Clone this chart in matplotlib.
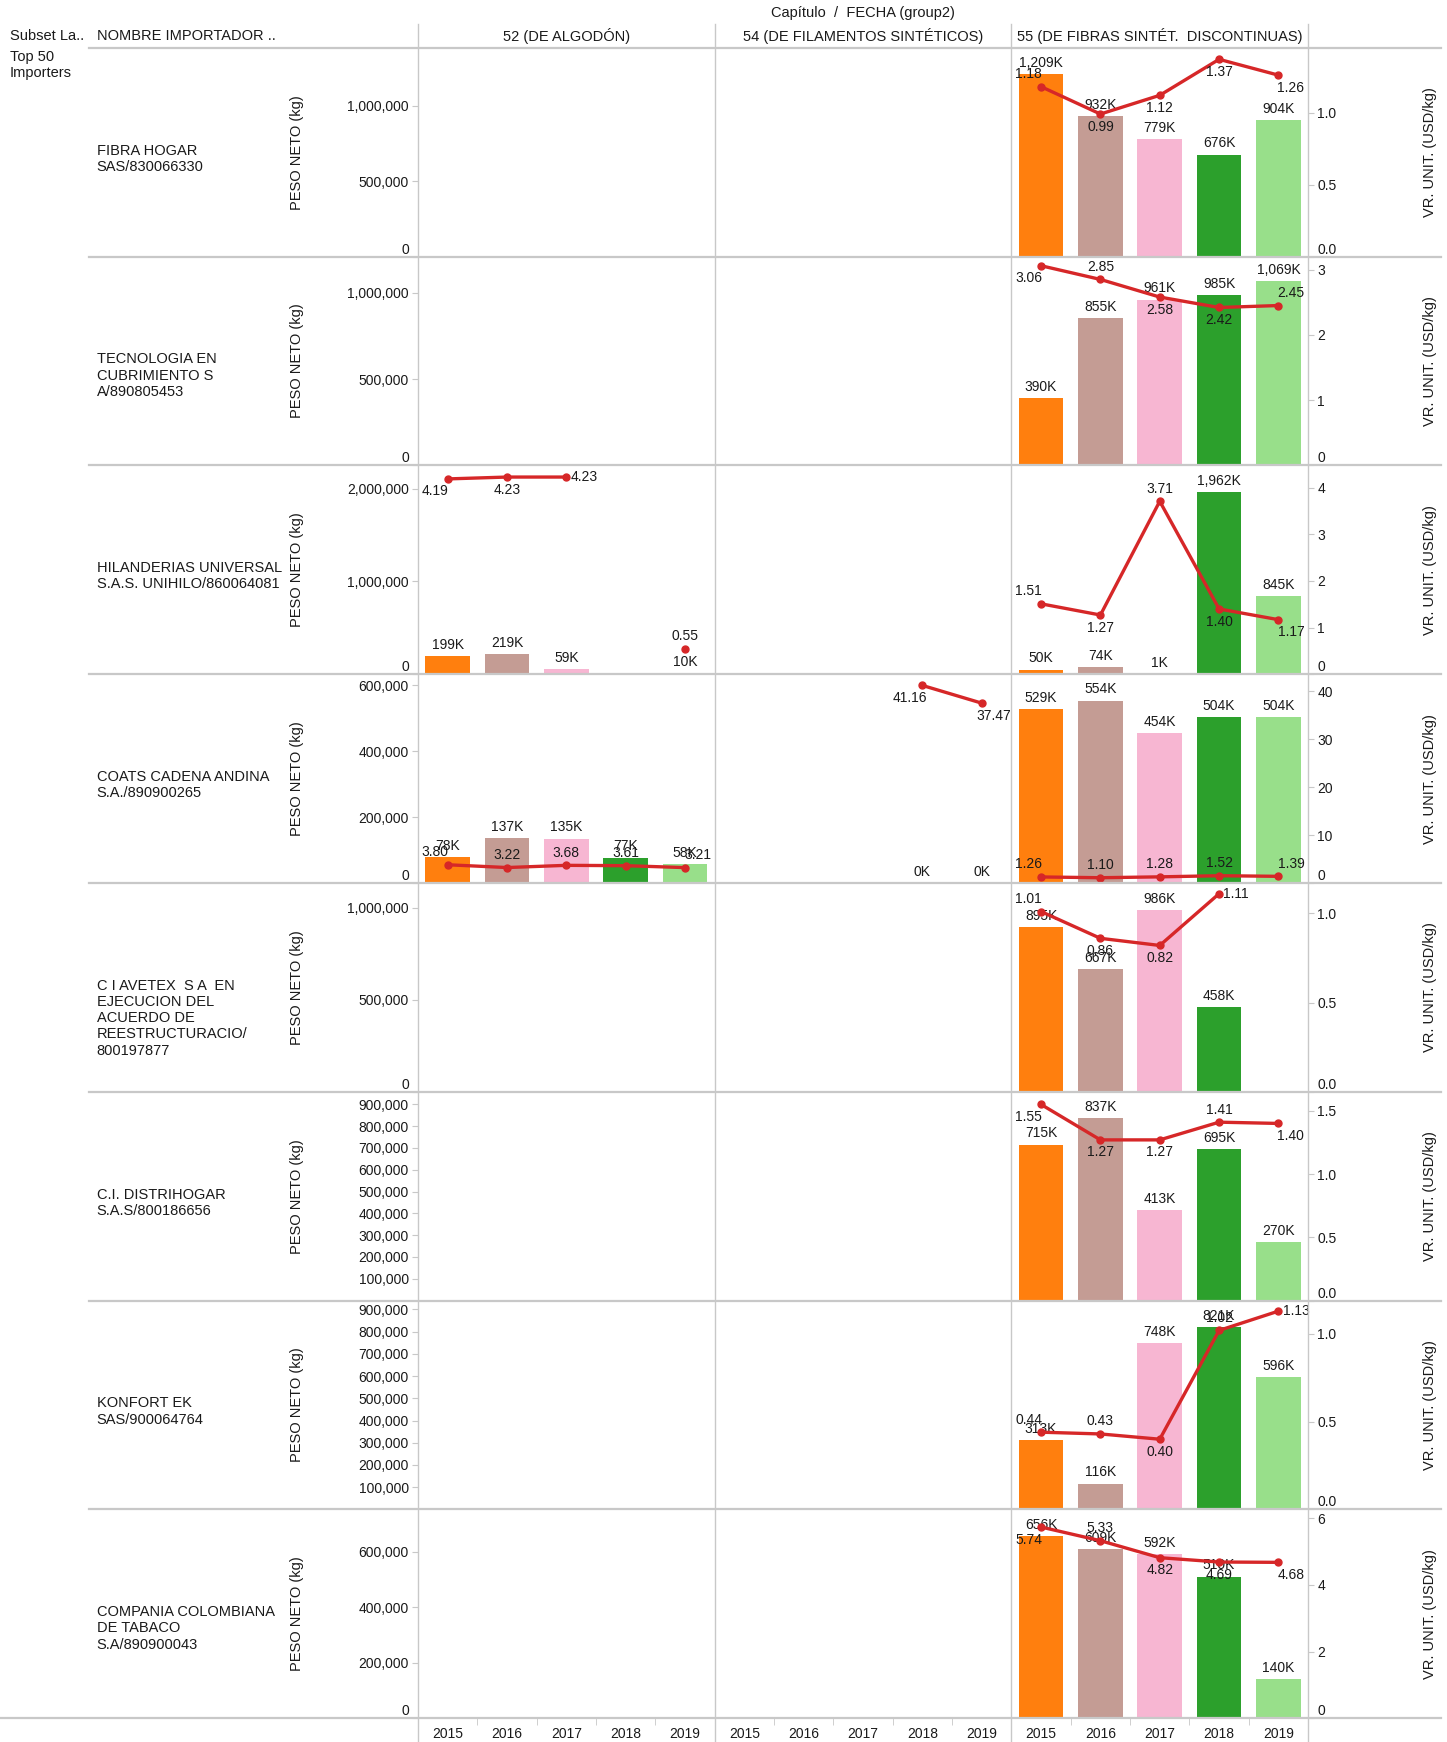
import numpy as np
import matplotlib
matplotlib.use("Agg")
import matplotlib.pyplot as plt
from matplotlib.lines import Line2D

plt.rcParams["font.family"] = ["Liberation Sans", "DejaVu Sans"]

nan = np.nan

# ---- data ----
YEARS = ["2015", "2016", "2017", "2018", "2019"]
CHAPTERS = ["52 (DE ALGODÓN)", "54 (DE FILAMENTOS SINTÉTICOS)",
            "55 (DE FIBRAS SINTÉT.  DISCONTINUAS)"]
IMPORTERS = [
    "FIBRA HOGAR\nSAS/830066330",
    "TECNOLOGIA EN\nCUBRIMIENTO S\nA/890805453",
    "HILANDERIAS UNIVERSAL\nS.A.S. UNIHILO/860064081",
    "COATS CADENA ANDINA\nS.A./890900265",
    "C I AVETEX  S A  EN\nEJECUCION DEL\nACUERDO DE\nREESTRUCTURACIO/\n800197877",
    "C.I. DISTRIHOGAR\nS.A.S/800186656",
    "KONFORT EK\nSAS/900064764",
    "COMPANIA COLOMBIANA\nDE TABACO\nS.A/890900043",
]

EMPTY = [nan, nan, nan, nan, nan]

# PESO NETO (kg) per chapter, one list per importer
PESO_52 = [EMPTY, EMPTY,
           [199e3, 219e3, 59e3, nan, 10e3],
           [78e3, 137e3, 135e3, 77e3, 58e3],
           EMPTY, EMPTY, EMPTY, EMPTY]
PESO_54 = [EMPTY, EMPTY, EMPTY,
           [nan, nan, nan, 150, 150],
           EMPTY, EMPTY, EMPTY, EMPTY]
PESO_55 = [[1209e3, 932e3, 779e3, 676e3, 904e3],
           [390e3, 855e3, 961e3, 985e3, 1069e3],
           [50e3, 74e3, 1e3, 1962e3, 845e3],
           [529e3, 554e3, 454e3, 504e3, 504e3],
           [895e3, 667e3, 986e3, 458e3, nan],
           [715e3, 837e3, 413e3, 695e3, 270e3],
           [313e3, 116e3, 748e3, 821e3, 596e3],
           [656e3, 609e3, 592e3, 510e3, 140e3]]

# VR. UNIT. (USD/kg)
VR_52 = [EMPTY, EMPTY,
         [4.19, 4.23, 4.23, nan, 0.55],
         [3.80, 3.22, 3.68, 3.61, 3.21],
         EMPTY, EMPTY, EMPTY, EMPTY]
VR_54 = [EMPTY, EMPTY, EMPTY,
         [nan, nan, nan, 41.16, 37.47],
         EMPTY, EMPTY, EMPTY, EMPTY]
VR_55 = [[1.18, 0.99, 1.12, 1.37, 1.26],
         [3.06, 2.85, 2.58, 2.42, 2.45],
         [1.51, 1.27, 3.71, 1.40, 1.17],
         [1.26, 1.10, 1.28, 1.52, 1.39],
         [1.01, 0.86, 0.82, 1.11, nan],
         [1.55, 1.27, 1.27, 1.41, 1.40],
         [0.44, 0.43, 0.40, 1.02, 1.13],
         [5.74, 5.33, 4.82, 4.69, 4.68]]

PESO = [PESO_52, PESO_54, PESO_55]
VR = [VR_52, VR_54, VR_55]

# axis ranges and ticks per row
LEFT_MAX = [1.384e6, 1.21e6, 2.25e6, 634e3, 1.133e6, 957e3, 940e3, 752e3]
RIGHT_MAX = [1.45, 3.2, 4.48, 43.5, 1.17, 1.65, 1.19, 6.27]
LEFT_TICKS = [
    [0, 500000, 1000000],
    [0, 500000, 1000000],
    [0, 1000000, 2000000],
    [0, 200000, 400000, 600000],
    [0, 500000, 1000000],
    [100000 * k for k in range(1, 10)],
    [100000 * k for k in range(1, 10)],
    [0, 200000, 400000, 600000],
]
RIGHT_TICKS = [
    [0.0, 0.5, 1.0],
    [0, 1, 2, 3],
    [0, 1, 2, 3, 4],
    [0, 10, 20, 30, 40],
    [0.0, 0.5, 1.0],
    [0.0, 0.5, 1.0, 1.5],
    [0.0, 0.5, 1.0],
    [0, 2, 4, 6],
]
RIGHT_FMT = ["{:.1f}", "{:.0f}", "{:.0f}", "{:.0f}", "{:.1f}", "{:.1f}", "{:.1f}", "{:.0f}"]

YEAR_COLORS = ["#ff7f0e", "#c49c94", "#f7b6d2", "#2ca02c", "#98df8a"]
RED = "#d62728"
GRID = "#c8c8c8"
TXT = "#1a1a1a"

# ---- layout (pixels of the 1447x1742 canvas) ----
W, H = 1447, 1742
ROW_TOP = 47.8
ROW_H = 208.8
PANE_X0 = 418.0
PANE_W = 296.7
FS = 10
FS_HEAD = 10.5


def fx(x):
    return x / W


def fy(y):
    return 1 - y / H


def line_label(ax, vals, i, ymax):
    v = vals[i]
    prev = vals[i - 1] if i > 0 and not np.isnan(vals[i - 1]) else None
    nxt = vals[i + 1] if i < len(vals) - 1 and not np.isnan(vals[i + 1]) else None
    frac = v / ymax
    dx, ha = 0, "center"
    if prev is None and nxt is not None:
        dx = -9
    if nxt is None and prev is not None:
        dx = 9
    if prev is None and nxt is None:
        pos = "above"
    elif frac < 0.15:
        pos = "above"
    elif frac > 0.9:
        pos = "side" if nxt is None else "below"
    else:
        avg = np.mean([n for n in (prev, nxt) if n is not None])
        pos = "above" if v >= avg else "below"
    if pos == "above":
        dy, va = 4, "bottom"
    elif pos == "below":
        dy, va = -4, "top"
    else:
        dy, va, dx, ha = 0, "center", 3, "left"
    ax.annotate(f"{v:.2f}", (i, v), xytext=(dx, dy), textcoords="offset points",
                ha=ha, va=va, fontsize=FS, color=TXT, zorder=6)


fig = plt.figure(figsize=(W / 100, H / 100), dpi=100)

for r in range(len(IMPORTERS)):
    top = ROW_TOP + r * ROW_H
    for c in range(len(CHAPTERS)):
        left = PANE_X0 + c * PANE_W
        ax = fig.add_axes([fx(left), fy(top + ROW_H), PANE_W / W, ROW_H / H])
        ax2 = ax.twinx()
        for a in (ax, ax2):
            for s in a.spines.values():
                s.set_visible(False)
        ax.set_xlim(-0.5, 4.5)
        ax.set_ylim(0, LEFT_MAX[r])
        ax2.set_ylim(0, RIGHT_MAX[r])

        x = np.arange(len(YEARS))
        peso = np.array(PESO[c][r], dtype=float)
        vr = np.array(VR[c][r], dtype=float)

        ok = ~np.isnan(peso)
        ax.bar(x[ok], peso[ok], width=0.75,
               color=[YEAR_COLORS[i] for i in x[ok]], zorder=2)
        for i in x[ok]:
            ax.annotate(f"{peso[i] / 1000:,.0f}K", (i, peso[i]), xytext=(0, 3),
                        textcoords="offset points", ha="center", va="bottom",
                        fontsize=FS, color=TXT)

        if (~np.isnan(vr)).any():
            ax2.plot(x, vr, color=RED, lw=2.4, marker="o", ms=5, zorder=5)
            for i in x[~np.isnan(vr)]:
                line_label(ax2, vr, i, RIGHT_MAX[r])

        # left axis only on the first pane
        if c == 0:
            ax.set_yticks(LEFT_TICKS[r])
            ax.set_yticklabels([f"{t:,.0f}" for t in LEFT_TICKS[r]])
            ax.tick_params(axis="y", length=4.5, color=GRID, labelsize=FS,
                           labelcolor=TXT, pad=2)
            for t in ax.yaxis.get_major_ticks():
                if t.get_loc() == 0:
                    t.label1.set_va("bottom")
        else:
            ax.set_yticks([])

        # right axis only on the last pane
        if c == len(CHAPTERS) - 1:
            ax2.set_yticks(RIGHT_TICKS[r])
            ax2.set_yticklabels([RIGHT_FMT[r].format(t) for t in RIGHT_TICKS[r]])
            ax2.tick_params(axis="y", length=4.5, color=GRID, labelsize=FS,
                            labelcolor=TXT, pad=2)
            for t in ax2.yaxis.get_major_ticks():
                if t.get_loc() == 0:
                    t.label2.set_va("bottom")
        else:
            ax2.set_yticks([])

        # year axis on the bottom row only (x is shared with the twin)
        if r == len(IMPORTERS) - 1:
            ax.set_xticks(x)
            ax.set_xticklabels(YEARS)
            ax.set_xticks([0.5, 1.5, 2.5, 3.5], minor=True)
            ax.tick_params(axis="x", which="major", length=0, labelsize=FS,
                           labelcolor=TXT, pad=6)
            ax.tick_params(axis="x", which="minor", length=5, color=GRID)
        else:
            ax.set_xticks([])

    # row texts
    mid = top + ROW_H / 2
    fig.text(fx(96.7), fy(mid - 8.6), IMPORTERS[r], ha="left", va="top",
             fontsize=FS_HEAD, color=TXT, linespacing=1.2)
    fig.text(fx(296.7), fy(mid), "PESO NETO (kg)", rotation=90, ha="center",
             va="center", fontsize=FS + 0.5, color=TXT)
    fig.text(fx(1430), fy(mid), "VR. UNIT. (USD/kg)", rotation=90, ha="center",
             va="center", fontsize=FS + 0.5, color=TXT)

# headers
fig.text(fx(862.5), fy(13.3), "Capítulo  /  FECHA (group2)", ha="center",
         va="center", fontsize=FS_HEAD, color=TXT)
fig.text(fx(10), fy(35.6), "Subset La..", ha="left", va="center", fontsize=FS_HEAD,
         color=TXT)
fig.text(fx(96.7), fy(35.6), "NOMBRE IMPORTADOR ..", ha="left", va="center",
         fontsize=FS_HEAD, color=TXT)
for c, name in enumerate(CHAPTERS):
    fig.text(fx(PANE_X0 + (c + 0.5) * PANE_W), fy(35.6), name, ha="center",
             va="center", fontsize=FS_HEAD, color=TXT)
fig.text(fx(10), fy(50), "Top 50\nImporters", ha="left", va="top", fontsize=FS_HEAD,
         color=TXT, linespacing=1.2)

# grid lines
for c in range(len(CHAPTERS) + 1):
    xv = PANE_X0 + c * PANE_W
    fig.add_artist(Line2D([fx(xv), fx(xv)], [fy(24.5), fy(H)], color=GRID, lw=1))
fig.add_artist(Line2D([fx(89), fx(1441)], [fy(ROW_TOP), fy(ROW_TOP)], color=GRID, lw=1.6))
for r in range(1, len(IMPORTERS)):
    yv = ROW_TOP + r * ROW_H
    fig.add_artist(Line2D([fx(89), fx(1441)], [fy(yv), fy(yv)], color=GRID, lw=1.6))
yb = ROW_TOP + len(IMPORTERS) * ROW_H
fig.add_artist(Line2D([0, fx(1441)], [fy(yb), fy(yb)], color=GRID, lw=1.6))

fig.savefig("out.png", dpi=100)
